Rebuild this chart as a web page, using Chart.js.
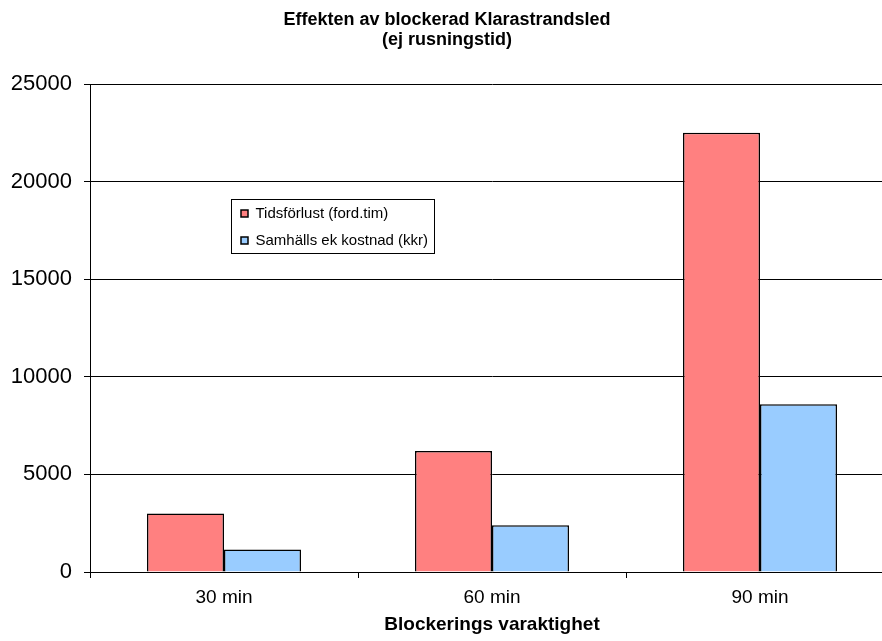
<!DOCTYPE html>
<html>
<head>
<meta charset="utf-8">
<script src="https://cdn.jsdelivr.net/npm/chart.js@4/dist/chart.umd.min.js"></script>
<style>
  html, body { margin: 0; padding: 0; background: #fff; overflow: hidden; }
  #wrap { width: 904px; height: 641px; }
</style>
</head>
<body>
<div id="wrap"><canvas id="c" width="904" height="641"></canvas></div>
<script>
// Blockeringens längd (kategorier)
const categories = ['30 min', '60 min', '90 min'];
// Tidsförlust i fordonstimmar
const tidsforlust = [3000, 6200, 22500];
// Samhällsekonomisk kostnad i kkr
const kostnad = [1150, 2400, 8600];
// Y-axelns skala
const yMin = 0;
const yMax = 25000;
const yStep = 5000;

const FONT = '"Liberation Sans", Arial, Helvetica, sans-serif';

// Placerar förklaringen fritt i diagramytan och ritar en ram runt den
const legendFrame = {
  id: 'legendFrame',
  afterLayout(chart) {
    const lg = chart.legend;
    if (!lg) return;
    const w = lg.width, h = lg.height;
    lg.left = 229; lg.top = 194;
    lg.right = lg.left + w; lg.bottom = lg.top + h;
  },
  afterDraw(chart) {
    const lg = chart.legend;
    if (!lg) return;
    const ctx = chart.ctx;
    ctx.save();
    ctx.strokeStyle = '#000';
    ctx.lineWidth = 1;
    ctx.strokeRect(lg.left + 2.5, lg.top + 5.5, 203, 54);
    ctx.restore();
  }
};

new Chart(document.getElementById('c'), {
  type: 'bar',
  data: {
    labels: categories,
    datasets: [
      {
        label: 'Tidsförlust (ford.tim)',
        data: tidsforlust,
        backgroundColor: '#FF8080',
        borderColor: '#000',
        borderWidth: 1.5
      },
      {
        label: 'Samhälls ek kostnad (kkr)',
        data: kostnad,
        backgroundColor: '#99CCFF',
        borderColor: '#000',
        borderWidth: 1.5
      }
    ]
  },
  options: {
    responsive: false,
    animation: false,
    events: [],
    layout: { padding: { left: 0, right: 10, top: 0, bottom: 0 } },
    datasets: {
      bar: { categoryPercentage: 0.5746, barPercentage: 1.0 }
    },
    plugins: {
      title: {
        display: true,
        text: ['Effekten av blockerad Klarastrandsled', '(ej rusningstid)'],
        color: '#000',
        font: { family: FONT, size: 18, weight: 'bold', lineHeight: 1.1 },
        padding: { top: 10, bottom: 34.4 }
      },
      legend: {
        display: true,
        position: 'chartArea',
        align: 'start',
        labels: {
          color: '#000',
          font: { family: FONT, size: 15 },
          boxWidth: 7,
          boxHeight: 7,
          padding: 12
        }
      },
      tooltip: { enabled: false }
    },
    scales: {
      x: {
        grid: {
          display: true,
          drawOnChartArea: false,
          drawTicks: true,
          tickLength: 6,
          color: '#000',
          offset: true
        },
        border: { display: true, color: '#000', width: 1 },
        ticks: {
          color: '#000',
          font: { family: FONT, size: 19 },
          padding: 8,
          maxRotation: 0
        },
        title: {
          display: true,
          text: 'Blockerings varaktighet',
          color: '#000',
          font: { family: FONT, size: 19, weight: 'bold', lineHeight: 1.2 },
          padding: { top: 0, bottom: 5 }
        },
        afterFit(scale) { scale.height = 69; }
      },
      y: {
        min: yMin,
        max: yMax,
        grid: {
          color: '#000',
          lineWidth: 1,
          drawTicks: true,
          tickLength: 6
        },
        border: { display: true, color: '#000', width: 1 },
        ticks: {
          stepSize: yStep,
          color: '#000',
          font: { family: FONT, size: 22 },
          padding: 12,
          callback: v => String(v)
        },
        afterFit(scale) { scale.width = 90; }
      }
    }
  },
  plugins: [legendFrame]
});
</script>
</body>
</html>
